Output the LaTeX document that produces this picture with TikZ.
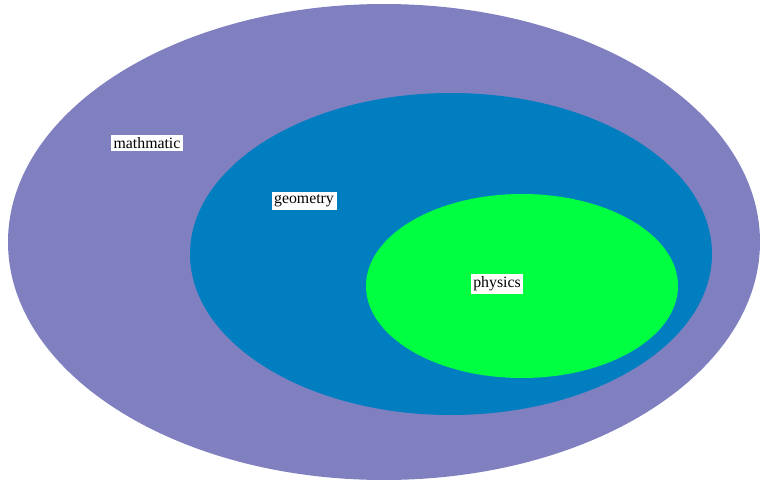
\documentclass[tikz,border=0pt]{standalone}
\usepackage{fontspec}
\setmainfont{Liberation Serif}
\definecolor{mathcol}{RGB}{128,128,192}
\definecolor{geocol}{RGB}{0,126,192}
\definecolor{phycol}{RGB}{0,255,64}
\tikzset{setlabel/.style={rectangle, fill=white, inner sep=1.5pt, font=\fontsize{9}{11}\selectfont}}
\begin{document}
\begin{tikzpicture}
      \useasboundingbox (0,0) rectangle (15.2,9.6);
      \fill[mathcol] (7.68,4.76) ellipse [x radius=7.52cm, y radius=4.76cm];
      \fill[geocol] (9.02,4.52) ellipse [x radius=5.22cm, y radius=3.22cm];
      \fill[phycol] (10.44,3.88) ellipse [x radius=3.12cm, y radius=1.84cm];

      \node (mathmatic) [setlabel] at (2.94,6.74) {mathmatic};
      \node (geometry) [setlabel] at (6.08,5.58) {geometry};
      \node (physics) [setlabel] at (9.94,3.92) {physics};
    \end{tikzpicture}
\end{document}
